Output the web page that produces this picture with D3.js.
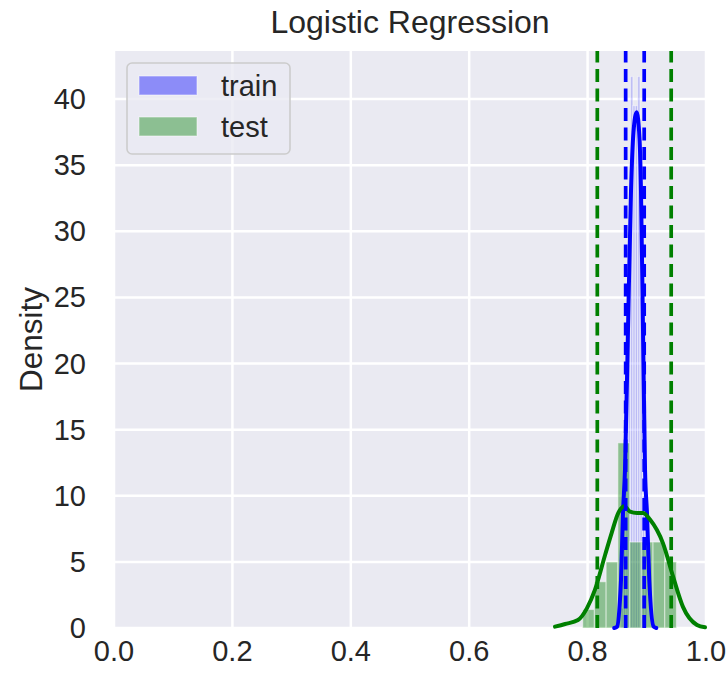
<!DOCTYPE html>
<html>
<head>
<meta charset="utf-8">
<script src="https://cdn.jsdelivr.net/npm/d3@7"></script>
<style>
  html, body { margin: 0; padding: 0; background: #ffffff; }
  svg text { font-family: "Liberation Sans", Arial, "DejaVu Sans", sans-serif; fill: #262626; }
</style>
</head>
<body>
<svg id="chart" width="727" height="681"></svg>
<script>
// ---- data ----
const title = "Logistic Regression";
const yLabel = "Density";
const seriesNames = ["train", "test"];
const xTicks = [0.0, 0.2, 0.4, 0.6, 0.8, 1.0];
const yTicks = [0, 5, 10, 15, 20, 25, 30, 35, 40];

const trainBinEdges = [0.8565, 0.8605, 0.8645, 0.8685, 0.8725, 0.8765, 0.8805, 0.8845, 0.8885, 0.8925, 0.8965, 0.9005];
const trainDensity  = [1.5, 6, 14, 28, 41.7, 39.5, 39.5, 41.7, 25, 10, 3];

const testBinEdges = [0.7917, 0.8115, 0.8313, 0.8511, 0.8709, 0.8907, 0.9105, 0.9303, 0.9501];
const testDensity  = [1.4, 3.5, 5.0, 14.0, 6.5, 6.5, 6.5, 5.0];

const trainKdeX = [0.845, 0.8497, 0.8545, 0.8564, 0.8598, 0.8632, 0.8682, 0.8733, 0.8775, 0.8829, 0.8877, 0.8902, 0.8936, 0.8970, 0.9003, 0.9042, 0.9116, 0.916];
const trainKdeY = [0.0, 0.1, 2.0, 3.6, 8.7, 12.0, 22.5, 33.0, 37.5, 39.0, 37.0, 33.0, 22.5, 12.0, 8.7, 3.6, 0.1, 0.0];

const testKdeX = [0.745, 0.762, 0.7838, 0.799, 0.8125, 0.8294, 0.8407, 0.8519, 0.862, 0.8716, 0.8834, 0.8936, 0.9054, 0.9274, 0.9443, 0.9611, 0.9848, 0.9983];
const testKdeY = [0.1, 0.3, 0.6, 1.5, 2.9, 5.5, 7.2, 8.7, 9.2, 8.8, 8.7, 8.7, 8.2, 6.4, 3.9, 1.6, 0.23, 0.05];

const trainBounds = [0.8643, 0.8956];
const testBounds = [0.8164, 0.9412];

// ---- layout ----
const svg = d3.select("#chart");
const m = { left: 114, right: 706, top: 51, bottom: 628 };
const x = d3.scaleLinear().domain([0, 1]).range([m.left, m.right]);
const y = d3.scaleLinear().domain([0, 43.63]).range([m.bottom, m.top]);

const trainColor = "#0000ff", testColor = "#008000";

// background
svg.append("rect").attr("x", m.left).attr("y", m.top)
  .attr("width", m.right - m.left).attr("height", m.bottom - m.top)
  .attr("fill", "#EAEAF2");

// grid
const grid = svg.append("g");
grid.selectAll("line.gx").data(xTicks).join("line")
  .attr("x1", d => x(d)).attr("x2", d => x(d))
  .attr("y1", m.top).attr("y2", m.bottom)
  .attr("stroke", "#ffffff").attr("stroke-width", 2.5);
grid.selectAll("line.gy").data(yTicks).join("line")
  .attr("y1", d => y(d)).attr("y2", d => y(d))
  .attr("x1", m.left).attr("x2", m.right)
  .attr("stroke", "#ffffff").attr("stroke-width", 2.5);

const plot = svg.append("g");

function bars(edges, dens, color, fo) {
  const data = dens.map((d, i) => ({ x0: edges[i], x1: edges[i + 1], v: d }));
  plot.append("g").selectAll("rect").data(data).join("rect")
    .attr("x", d => x(d.x0)).attr("width", d => x(d.x1) - x(d.x0))
    .attr("y", d => y(d.v)).attr("height", d => y(0) - y(d.v))
    .attr("fill", color).attr("fill-opacity", fo)
    .attr("stroke", "#ffffff").attr("stroke-opacity", 0.45).attr("stroke-width", 1.2);
}
bars(trainBinEdges, trainDensity, trainColor, 0.2);
bars(testBinEdges, testDensity, testColor, 0.4);

function kde(xs, ys, color) {
  plot.append("path").datum(xs.map((v, i) => [v, ys[i]]))
    .attr("d", d3.line().x(d => x(d[0])).y(d => y(d[1])).curve(d3.curveMonotoneX))
    .attr("fill", "none").attr("stroke", color).attr("stroke-width", 4)
    .attr("stroke-linejoin", "round").attr("stroke-linecap", "round");
}
kde(trainKdeX, trainKdeY, trainColor);
kde(testKdeX, testKdeY, testColor);

function vlines(vals, color) {
  plot.append("g").selectAll("line").data(vals).join("line")
    .attr("x1", d => x(d)).attr("x2", d => x(d))
    .attr("y1", m.bottom).attr("y2", m.top)
    .attr("stroke", color).attr("stroke-width", 3.7)
    .attr("stroke-dasharray", "13,6.5");
}
vlines(testBounds, testColor);
vlines(trainBounds, trainColor);

// axes labels
svg.append("g").selectAll("text").data(xTicks).join("text")
  .attr("x", d => x(d)).attr("y", 661)
  .attr("text-anchor", "middle").attr("font-size", 29)
  .text(d => d.toFixed(1));
svg.append("g").selectAll("text").data(yTicks).join("text")
  .attr("x", 86).attr("y", d => y(d) + 10)
  .attr("text-anchor", "end").attr("font-size", 29)
  .text(d => d);

svg.append("text")
  .attr("transform", `translate(42,${(m.top + m.bottom) / 2}) rotate(-90)`)
  .attr("text-anchor", "middle").attr("font-size", 31.5)
  .text(yLabel);

svg.append("text").attr("x", (m.left + m.right) / 2).attr("y", 33)
  .attr("text-anchor", "middle").attr("font-size", 32)
  .text(title);

// legend
const lg = svg.append("g");
lg.append("rect").attr("x", 127).attr("y", 63).attr("width", 163).attr("height", 91)
  .attr("rx", 5).attr("fill", "#EAEAF2").attr("fill-opacity", 0.8)
  .attr("stroke", "#cccccc").attr("stroke-width", 1.6);
const legendColors = [trainColor, testColor];
seriesNames.forEach((name, i) => {
  const yy = 76 + i * 41;
  lg.append("rect").attr("x", 139).attr("y", yy).attr("width", 58).attr("height", 19)
    .attr("fill", legendColors[i]).attr("fill-opacity", 0.4)
    .attr("stroke", "#ffffff").attr("stroke-opacity", 0.45).attr("stroke-width", 1.2);
  lg.append("text").attr("x", 221).attr("y", yy + 19.5)
    .attr("font-size", 29).text(name);
});
</script>
</body>
</html>
